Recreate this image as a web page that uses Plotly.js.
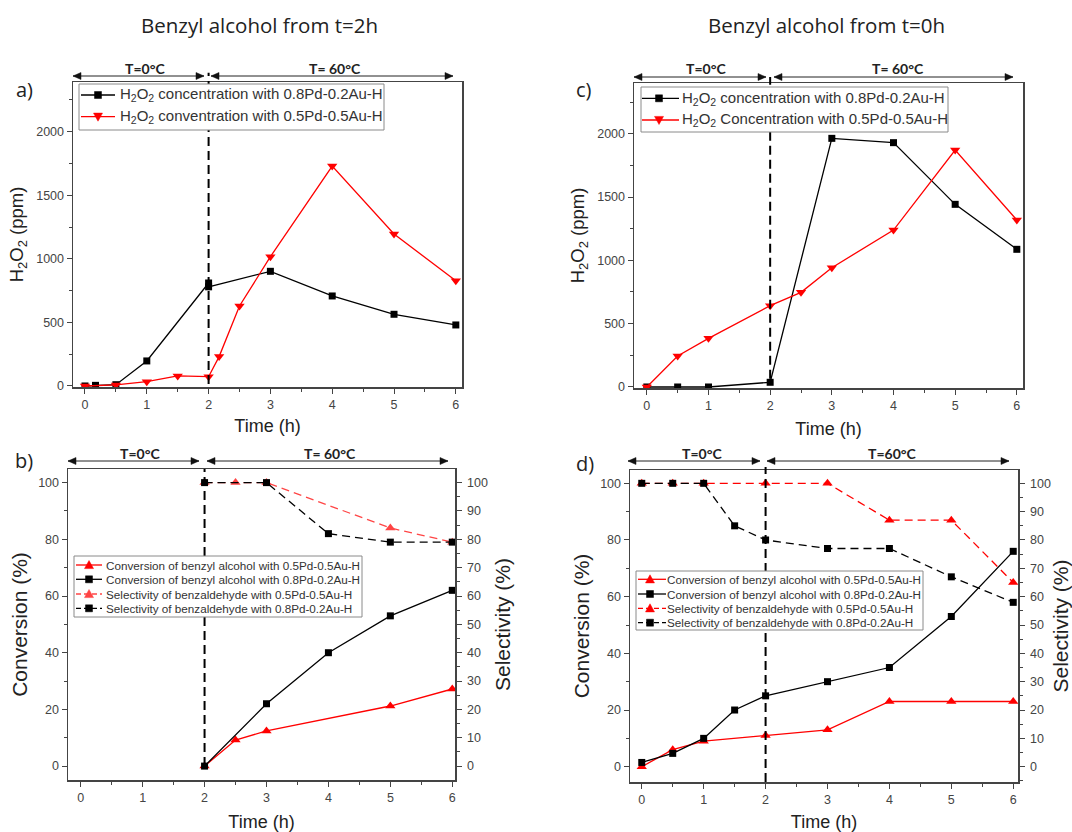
<!DOCTYPE html>
<html><head><meta charset="utf-8">
<script src="https://cdn.plot.ly/plotly-3.0.1.min.js"></script>
<style>body{margin:0;background:#fff}#chart{width:1072px;height:832px}</style>
</head><body><div id="chart"></div>
<script>
// ---- Data ----
// Panel a: Benzyl alcohol from t=2h, H2O2
const timeA_pd8 = [0, 0.17, 0.5, 1, 2, 2, 3, 4, 5, 6];
const h2o2A_pd8 = [0, 5, 10, 197, 810, 780, 902, 708, 564, 480];
const timeA_pd5 = [0, 0.5, 1, 1.5, 2, 2.17, 2.5, 3, 4, 5, 6];
const h2o2A_pd5 = [0, 8, 34, 79, 73, 231, 629, 1017, 1730, 1195, 828];
// Panel c: Benzyl alcohol from t=0h, H2O2
const timeC_pd8 = [0, 0.5, 1, 2, 3, 4, 5, 6];
const h2o2C_pd8 = [0, 0, 0, 37, 1963, 1929, 1442, 1087];
const timeC_pd5 = [0, 0.5, 1, 2, 2.5, 3, 4, 5, 6];
const h2o2C_pd5 = [0, 245, 384, 642, 747, 942, 1239, 1871, 1318];
// Panel b: conversion / selectivity, from t=2h
const timeB_convPd5 = [2, 2.5, 3, 5, 6];
const convB_pd5 = [0, 9.2, 12.4, 21.2, 27.2];
const timeB_convPd8 = [2, 3, 4, 5, 6];
const convB_pd8 = [0, 22, 40, 53, 62];
const timeB_selPd5 = [2, 2.5, 3, 5, 6];
const selB_pd5 = [100, 100, 100, 84, 79];
const timeB_selPd8 = [2, 3, 4, 5, 6];
const selB_pd8 = [100, 100, 82, 79, 79];
// Panel d: conversion / selectivity, from t=0h
const timeD_convPd5 = [0, 0.5, 1, 2, 3, 4, 5, 6];
const convD_pd5 = [0, 6, 9, 11, 13, 23, 23, 23];
const timeD_convPd8 = [0, 0.5, 1, 1.5, 2, 3, 4, 5, 6];
const convD_pd8 = [1.5, 4.7, 10, 20, 25, 30, 35, 53, 76];
const timeD_selPd5 = [0, 0.5, 1, 2, 3, 4, 5, 6];
const selD_pd5 = [100, 100, 100, 100, 100, 87, 87, 65];
const timeD_selPd8 = [0, 0.5, 1, 1.5, 2, 3, 4, 5, 6];
const selD_pd8 = [100, 100, 100, 85, 80, 77, 77, 67, 58];

const namesH2O2A = ['H<sub>2</sub>O<sub>2</sub> concentration with 0.8Pd-0.2Au-H', 'H<sub>2</sub>O<sub>2</sub> conventration with 0.5Pd-0.5Au-H'];
const namesH2O2C = ['H<sub>2</sub>O<sub>2</sub> concentration with 0.8Pd-0.2Au-H', 'H<sub>2</sub>O<sub>2</sub> Concentration with 0.5Pd-0.5Au-H'];
const namesConv = ['Conversion of benzyl alcohol with 0.5Pd-0.5Au-H', 'Conversion of benzyl alcohol with 0.8Pd-0.2Au-H', 'Selectivity of benzaldehyde with 0.5Pd-0.5Au-H', 'Selectivity of benzaldehyde with 0.8Pd-0.2Au-H'];
const panelTitles = ['Benzyl alcohol from t=2h', 'Benzyl alcohol from t=0h'];
const panelLabels = ['a)', 'c)', 'b)', 'd)'];
const tempLabels = ['T=0°C', 'T= 60°C', 'T=60°C'];
const timeTicks = [0, 1, 2, 3, 4, 5, 6];

// ---- Helpers ----
const W = 1072, H = 832;
const px = v => v / W, py = v => 1 - v / H;
const RED = '#ff0000', LRED = '#ff4545', BLK = '#000000';
const DASH = '8px,5px';
const sq = c => ({symbol: 'square', size: 7, color: c});
const tri = (c, s) => ({symbol: s, size: 9, color: c});
const ln = (c, d) => ({color: c, width: 1.3, dash: d || 'solid'});

const traces = [
  {x: timeA_pd8, y: h2o2A_pd8, name: namesH2O2A[0], line: ln(BLK), marker: sq(BLK), xaxis: 'x', yaxis: 'y'},
  {x: timeA_pd5, y: h2o2A_pd5, name: namesH2O2A[1], line: ln(RED), marker: tri(RED, 'triangle-down'), xaxis: 'x', yaxis: 'y'},
  {x: timeC_pd8, y: h2o2C_pd8, name: namesH2O2C[0], line: ln(BLK), marker: sq(BLK), xaxis: 'x2', yaxis: 'y2'},
  {x: timeC_pd5, y: h2o2C_pd5, name: namesH2O2C[1], line: ln(RED), marker: tri(RED, 'triangle-down'), xaxis: 'x2', yaxis: 'y2'},

  {x: timeB_convPd5, y: convB_pd5, name: namesConv[0], line: ln(RED), marker: tri(RED, 'triangle-up'), xaxis: 'x3', yaxis: 'y3'},
  {x: timeB_convPd8, y: convB_pd8, name: namesConv[1], line: ln(BLK), marker: sq(BLK), xaxis: 'x3', yaxis: 'y3'},
  {x: timeB_selPd5, y: selB_pd5, name: namesConv[2], line: ln(LRED, DASH), marker: tri(LRED, 'triangle-up'), xaxis: 'x3', yaxis: 'y5'},
  {x: timeB_selPd8, y: selB_pd8, name: namesConv[3], line: ln(BLK, DASH), marker: sq(BLK), xaxis: 'x3', yaxis: 'y5'},

  {x: timeD_convPd5, y: convD_pd5, name: namesConv[0], line: ln(RED), marker: tri(RED, 'triangle-up'), xaxis: 'x4', yaxis: 'y4'},
  {x: timeD_convPd8, y: convD_pd8, name: namesConv[1], line: ln(BLK), marker: sq(BLK), xaxis: 'x4', yaxis: 'y4'},
  {x: timeD_selPd5, y: selD_pd5, name: namesConv[2], line: ln(RED, DASH), marker: tri(RED, 'triangle-up'), xaxis: 'x4', yaxis: 'y6'},
  {x: timeD_selPd8, y: selD_pd8, name: namesConv[3], line: ln(BLK, DASH), marker: sq(BLK), xaxis: 'x4', yaxis: 'y6'}
];
traces.forEach(t => { t.mode = 'lines+markers'; t.showlegend = false; });

const FAM = 'Liberation Sans, Arial, sans-serif';
const AX_FONT = {family: FAM, size: 12.5, color: '#444'};
const XT_FONT = {family: FAM, size: 18, color: '#222'};
const AXC = '#444';
function xax(l, r, range, anchor, standoff) {
  return {domain: [px(l), px(r)], range: range, anchor: anchor, tickvals: timeTicks, ticks: 'outside', ticklen: 5,
    minor: {dtick: 0.5, ticks: 'outside', ticklen: 3, tickcolor: AXC},
    showline: true, mirror: true, linecolor: AXC, linewidth: 1.5, tickcolor: AXC, showgrid: false, zeroline: false,
    tickfont: AX_FONT, title: {text: 'Time (h)', font: XT_FONT, standoff: standoff}};
}
function topax(base, over, anchor) {
  return {domain: base.domain, range: base.range, overlaying: over, anchor: anchor, side: 'top', tickvals: timeTicks,
    ticks: 'inside', ticklen: 5, tickcolor: AXC, showticklabels: false, showline: false, showgrid: false, zeroline: false,
    minor: {dtick: 0.5, ticks: 'inside', ticklen: 3, tickcolor: AXC}};
}
function yax(t, b, range, anchor, dtick, mdtick, title, standoff, fsize) {
  return {domain: [py(b), py(t)], range: range, anchor: anchor, dtick: dtick, ticks: 'outside', ticklen: 5,
    minor: {dtick: mdtick, ticks: 'outside', ticklen: 3, tickcolor: AXC},
    showline: true, mirror: true, linecolor: AXC, linewidth: 1.5, tickcolor: AXC, showgrid: false, zeroline: false,
    tickfont: AX_FONT, title: {text: title, font: {family: FAM, size: fsize, color: '#222'}, standoff: standoff}};
}

const xa = xax(73, 462, [-0.194, 6.1], 'y', 9);
const xc = xax(634, 1023, [-0.208, 6.1], 'y2', 11);
const xb = xax(68, 455, [-0.205, 6.044], 'y3', 13);
const xd = xax(630, 1018, [-0.19, 6.077], 'y4', 13);

const layout = {
  width: W, height: H, margin: {l: 0, r: 0, t: 0, b: 0}, paper_bgcolor: '#fff', plot_bgcolor: '#fff',
  font: {family: FAM, color: '#222'}, showlegend: false,
  xaxis: xa, xaxis2: xc, xaxis3: xb, xaxis4: xd,
  xaxis5: topax(xa, 'x', 'y'), xaxis6: topax(xc, 'x2', 'y2'), xaxis7: topax(xb, 'x3', 'y3'), xaxis8: topax(xd, 'x4', 'y4'),
  yaxis: yax(82, 387, [-8, 2391], 'x', 500, 250, 'H<sub>2</sub>O<sub>2</sub> (ppm)', 7, 18.5),
  yaxis2: yax(83, 388, [-8, 2400], 'x2', 500, 250, 'H<sub>2</sub>O<sub>2</sub> (ppm)', 7, 18.5),
  yaxis3: yax(469, 780, [-4.9, 104.8], 'x3', 20, 10, 'Conversion (%)', 5, 21),
  yaxis4: yax(470, 782, [-5.4, 104.7], 'x4', 20, 10, 'Conversion (%)', 5, 21),
  yaxis5: Object.assign(yax(469, 780, [-4.9, 104.8], 'x3', 10, 5, 'Selectivity (%)', 8, 21), {overlaying: 'y3', side: 'right', mirror: false, ticklabelstandoff: 3}),
  yaxis6: Object.assign(yax(470, 782, [-5.4, 104.7], 'x4', 10, 5, 'Selectivity (%)', 8, 21), {overlaying: 'y4', side: 'right', mirror: false, ticklabelstandoff: 3}),
  shapes: [
    {type: 'line', xref: 'x', yref: 'y domain', x0: 2, x1: 2, y0: 0.01, y1: 1.03, line: {color: '#000', width: 2, dash: '9px,5px'}},
    {type: 'line', xref: 'x2', yref: 'y2 domain', x0: 2, x1: 2, y0: 0.03, y1: 1.02, line: {color: '#000', width: 2, dash: '9px,5px'}},
    {type: 'line', xref: 'x3', yref: 'y3 domain', x0: 2, x1: 2, y0: 0.045, y1: 1, line: {color: '#000', width: 2, dash: '9px,5px'}},
    {type: 'line', xref: 'x4', yref: 'y4 domain', x0: 2, x1: 2, y0: 0, y1: 1.01, line: {color: '#000', width: 2, dash: '9px,5px'}}
  ],
  annotations: []
};
const shapes = layout.shapes, ann = layout.annotations;

// ---- Titles and panel labels ----
const TFONT = {family: 'Open Sans, sans-serif', size: 20.5, color: '#222'};
ann.push({xref: 'paper', yref: 'paper', x: px(259), y: py(25), xanchor: 'center', yanchor: 'middle', text: panelTitles[0], showarrow: false, font: TFONT});
ann.push({xref: 'paper', yref: 'paper', x: px(826), y: py(25), xanchor: 'center', yanchor: 'middle', text: panelTitles[1], showarrow: false, font: TFONT});
const LFONT = {family: 'Open Sans, sans-serif', size: 20, color: '#222'};
[[24, 89], [584, 90], [24, 460], [585, 463]].forEach((p, i) =>
  ann.push({xref: 'paper', yref: 'paper', x: px(p[0]), y: py(p[1]), xanchor: 'center', yanchor: 'middle', text: panelLabels[i], showarrow: false, font: LFONT}));

// ---- Temperature-range arrows (pixel positions) ----
function arrowHead(x, y, dir) {
  const L = 8, h = 3.5;
  return {type: 'path', xref: 'paper', yref: 'paper', layer: 'above',
    path: `M ${px(x)},${py(y)} L ${px(x - dir * L)},${py(y - h)} L ${px(x - dir * L)},${py(y + h)} Z`,
    fillcolor: '#111', line: {color: '#111', width: 0.5}};
}
function dblArrow(x0, x1, y) {
  shapes.push({type: 'line', xref: 'paper', yref: 'paper', x0: px(x0), x1: px(x1), y0: py(y), y1: py(y), line: {color: '#222', width: 1}});
  shapes.push(arrowHead(x0, y, -1));
  shapes.push(arrowHead(x1, y, 1));
}
// [x0, x1, lineY, textX, textY, label]
const tempArrows = [
  [73, 204, 76, 145, 68, 0], [211, 453, 76, 335, 68, 1],
  [634, 766, 77, 706, 69, 0], [774, 1013, 77, 898, 69, 1],
  [68, 199, 461, 140, 453, 0], [207, 448, 461, 330, 453, 1],
  [628, 760, 461, 702, 454, 0], [767, 1009, 461, 892, 454, 2]
];
tempArrows.forEach(a => {
  dblArrow(a[0], a[1], a[2]);
  ann.push({xref: 'paper', yref: 'paper', x: px(a[3]), y: py(a[4]), xanchor: 'center', yanchor: 'middle',
    text: '<b>' + tempLabels[a[5]] + '</b>', showarrow: false, font: {family: 'Lato, sans-serif', size: 14, color: '#222'}});
});

// ---- Legends (built from the traces) ----
function markerPath(sym, x, y) {
  if (sym === 'square') { const s = 3.5; return `M ${px(x - s)},${py(y - s)} L ${px(x + s)},${py(y - s)} L ${px(x + s)},${py(y + s)} L ${px(x - s)},${py(y + s)} Z`; }
  const h = 4.5, w = 4.5, d = sym === 'triangle-up' ? 1 : -1;
  return `M ${px(x)},${py(y - d * h)} L ${px(x + w)},${py(y + d * h * 0.8)} L ${px(x - w)},${py(y + d * h * 0.8)} Z`;
}
function drawLegend(tr, box, rowsY, lx0, lx1, mx, tx, fsize) {
  shapes.push({type: 'rect', xref: 'paper', yref: 'paper', layer: 'above', x0: px(box[0]), x1: px(box[2]), y0: py(box[1]), y1: py(box[3]),
    fillcolor: '#ffffff', line: {color: '#8a8a8a', width: 1}});
  tr.forEach((t, i) => {
    const y = rowsY[i];
    shapes.push({type: 'line', xref: 'paper', yref: 'paper', layer: 'above', x0: px(lx0), x1: px(lx1), y0: py(y), y1: py(y),
      line: {color: t.line.color, width: 1.3, dash: t.line.dash === 'solid' ? 'solid' : '5px,3px'}});
    shapes.push({type: 'path', xref: 'paper', yref: 'paper', layer: 'above', path: markerPath(t.marker.symbol, mx, y),
      fillcolor: t.marker.color, line: {color: t.marker.color, width: 0.5}});
    ann.push({xref: 'paper', yref: 'paper', x: px(tx), y: py(y), xanchor: 'left', yanchor: 'middle', text: t.name,
      showarrow: false, font: {family: FAM, size: fsize, color: '#333'}});
  });
}
drawLegend(traces.slice(0, 2), [79, 84, 384, 130], [95, 116.7], 81, 115, 98, 118, 15);
drawLegend(traces.slice(2, 4), [641, 87, 948, 132], [98.3, 120], 642, 679, 659, 680, 15);
drawLegend(traces.slice(4, 8), [74, 556, 362, 617], [565, 579.3, 594, 608.3], 76, 102, 89, 104, 11.7);
drawLegend(traces.slice(8, 12), [636, 571, 923, 630], [579.3, 594, 608.3, 622.7], 638, 666, 650, 665, 11.7);

Plotly.newPlot('chart', traces, layout, {staticPlot: true});
</script></body></html>
